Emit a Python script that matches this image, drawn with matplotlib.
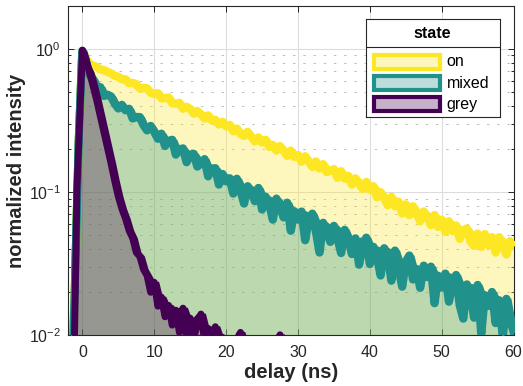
import numpy as np
import matplotlib.pyplot as plt
from matplotlib.patches import Rectangle

plt.rcParams['font.family'] = ['Liberation Sans', 'DejaVu Sans']
plt.rcParams['mathtext.fontset'] = 'custom'
plt.rcParams['mathtext.rm'] = 'Liberation Sans'
plt.rcParams['mathtext.it'] = 'Liberation Sans:italic'
plt.rcParams['mathtext.bf'] = 'Liberation Sans:bold'

# Decay traces, normalized to the peak
delay = np.arange(-1.5, 60.01, 0.5)

on = [0.004, 0.025, 0.22, 0.97,
      0.85, 0.785, 0.765, 0.750, 0.718, 0.712, 0.690, 0.676, 0.650, 0.640,
      0.613, 0.615, 0.576, 0.579, 0.569, 0.528, 0.535, 0.531, 0.493, 0.485,
      0.491, 0.451, 0.453, 0.459, 0.417, 0.415, 0.420, 0.382, 0.395, 0.381,
      0.353, 0.369, 0.349, 0.326, 0.344, 0.317, 0.320, 0.297, 0.310, 0.288,
      0.295, 0.266, 0.278, 0.255, 0.247, 0.264, 0.244, 0.226, 0.241, 0.222,
      0.232, 0.207, 0.214, 0.195, 0.210, 0.195, 0.179, 0.195, 0.176, 0.182,
      0.163, 0.178, 0.164, 0.150, 0.164, 0.146, 0.157, 0.138, 0.141, 0.145,
      0.126, 0.140, 0.124, 0.130, 0.113, 0.125, 0.115, 0.105, 0.118, 0.104,
      0.110, 0.0920, 0.100, 0.0904, 0.0810, 0.0928, 0.0796, 0.0858, 0.0709, 0.0823,
      0.0691, 0.0798, 0.0707, 0.0626, 0.0733, 0.0675, 0.0588, 0.0693, 0.0572, 0.0642,
      0.0527, 0.0627, 0.0535, 0.0586, 0.0472, 0.0537, 0.0559, 0.0452, 0.0422, 0.0514,
      0.0415, 0.0510, 0.0426, 0.0486, 0.0379, 0.0485, 0.0423, 0.0367, 0.0455, 0.0428]

mixed = [0.004, 0.025, 0.22, 0.97,
         0.787, 0.659, 0.614, 0.536, 0.541, 0.470, 0.479, 0.465, 0.416, 0.384,
         0.407, 0.373, 0.382, 0.327, 0.335, 0.334, 0.294, 0.270, 0.290, 0.264,
         0.236, 0.256, 0.210, 0.228, 0.232, 0.183, 0.199, 0.202, 0.162, 0.183,
         0.185, 0.151, 0.159, 0.170, 0.129, 0.146, 0.147, 0.113, 0.134, 0.119,
         0.125, 0.0977, 0.124, 0.103, 0.0833, 0.110, 0.101, 0.0865, 0.107, 0.0757,
         0.0930, 0.0831, 0.0643, 0.0901, 0.0793, 0.0667, 0.0844, 0.0538, 0.0736, 0.0644,
         0.0732, 0.0462, 0.0648, 0.0708, 0.0531, 0.0379, 0.0611, 0.0537, 0.0450, 0.0582,
         0.0477, 0.0376, 0.0546, 0.0474, 0.0370, 0.0476, 0.0312, 0.0416, 0.0481, 0.0315,
         0.0415, 0.0351, 0.0262, 0.0406, 0.0358, 0.0241, 0.0391, 0.0294, 0.0219, 0.0328,
         0.0361, 0.0246, 0.0291, 0.0215, 0.0307, 0.0256, 0.0302, 0.0168, 0.0261, 0.0216,
         0.0270, 0.0172, 0.0229, 0.0264, 0.0163, 0.0131, 0.0227, 0.0196, 0.0133, 0.0225,
         0.0103, 0.0191, 0.0161, 0.0201, 0.0122, 0.0176, 0.0097, 0.0180, 0.0130, 0.0106]

delay_grey = np.concatenate([[-1.5, -1.25, -1.0, -0.75, -0.5, -0.25, 0.0, 0.25, 0.5, 0.75],
                             np.arange(1.0, 30.01, 0.5)])
grey = [0.002, 0.004, 0.018, 0.105, 0.219, 0.468, 0.98, 0.93, 0.85, 0.76,
        0.684, 0.55, 0.437, 0.339, 0.263, 0.204, 0.158, 0.120, 0.0933,
        0.0765, 0.0655, 0.0540, 0.0478, 0.0380, 0.0355, 0.0290, 0.0262, 0.0200, 0.0235,
        0.0160, 0.0185, 0.0135, 0.0162, 0.0118, 0.0150, 0.0105, 0.0155, 0.0098, 0.0132,
        0.0095, 0.0122, 0.0141, 0.0092, 0.0112, 0.0090, 0.0115, 0.0088, 0.0097, 0.0084,
        0.0093, 0.0082, 0.0086, 0.0105, 0.0080, 0.0084, 0.0079, 0.0082, 0.0076, 0.0080,
        0.0075, 0.0079, 0.0074, 0.0078, 0.0101, 0.0073, 0.0075, 0.0072, 0.0074, 0.0070]

states = ['on', 'mixed', 'grey']
colors = ['#fde725', '#21918c', '#440154']
widths = [6, 6, 5]
traces = [(delay, on), (delay, mixed), (delay_grey, grey)]

axcol = '#262626'


def upper_envelope(y):
    # running max over each sample and its two neighbours
    y = np.asarray(y)
    prev = np.r_[y[:1], y[:-1]]
    nxt = np.r_[y[1:], y[-1:]]
    return np.maximum(np.maximum(prev, y), nxt)


fig = plt.figure(figsize=(5.23, 3.86), dpi=100)
ax = fig.add_axes([0.130, 0.131, 0.852, 0.854])

for (t, y), c, w in zip(traces, colors, widths):
    ax.fill_between(t, y, 1e-3, color=c, alpha=0.3, lw=0, zorder=2)
    # noisy trace: fill the band between the counts and their local maximum
    ax.fill_between(t, y, upper_envelope(y), facecolor=c, edgecolor=c, lw=1.5, zorder=3)
    ax.plot(t, y, color=c, lw=w, zorder=3)

ax.set_yscale('log')
ax.set_xlim(-2, 60)
ax.set_ylim(0.01, 2)
ax.set_xticks([0, 10, 20, 30, 40, 50, 60])
ax.set_yticks([0.01, 0.1, 1])
ax.set_yticklabels([r'$10^{-2}$', r'$10^{-1}$', r'$10^{0}$'])

ax.set_axisbelow(True)
ax.grid(True, which='major', color='#dcdcdc', lw=0.8)
ax.grid(True, which='minor', axis='y', color='#bdbdbd', lw=0.7, linestyle=(0, (2.5, 8)))

ax.tick_params(which='both', direction='in', top=True, right=True,
               color=axcol, labelcolor=axcol, labelsize=11.5, width=0.7)
ax.tick_params(which='major', length=4)
ax.tick_params(axis='x', which='major', pad=7)
ax.tick_params(axis='y', which='major', pad=5)
ax.tick_params(which='minor', length=2.5)
for s in ax.spines.values():
    s.set_color(axcol)
    s.set_linewidth(0.8)

ax.set_xlabel('delay (ns)', fontsize=14.5, fontweight='bold', color=axcol, labelpad=2)
ax.set_ylabel('normalized intensity', fontsize=14.5, fontweight='bold', color=axcol, labelpad=2)

# legend box with a titled header
lax = fig.add_axes([365.7 / 523, 1 - 117 / 386, 134.3 / 523, 98 / 386])
lax.set_xlim(0, 134.3)
lax.set_ylim(98, 0)
lax.set_xticks([])
lax.set_yticks([])
for s in lax.spines.values():
    s.set_color(axcol)
    s.set_linewidth(0.8)
lax.axhline(27.7, color=axcol, lw=0.8)
lax.text(67, 14, 'state', ha='center', va='center', fontsize=11.5,
         fontweight='bold', color='black')
for i, (name, c) in enumerate(zip(states, colors)):
    yc = 43 + i * 21
    lax.add_patch(Rectangle((8.5, yc - 7), 66, 14, facecolor=c, alpha=0.3, lw=0))
    lax.add_patch(Rectangle((8.5, yc - 7), 66, 14, facecolor='none', edgecolor=c, lw=3))
    lax.text(81, yc, name, ha='left', va='center', fontsize=11.5, color='black')

fig.savefig('out.png', dpi=100)
